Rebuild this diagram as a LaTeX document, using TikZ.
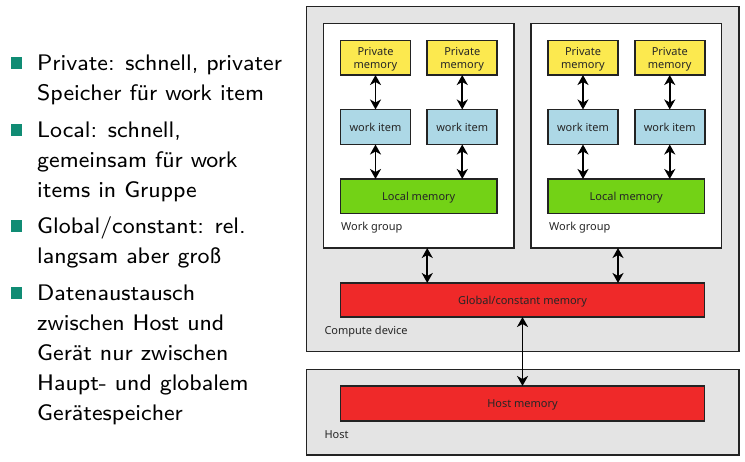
\documentclass[tikz,border=0pt]{standalone}
\usepackage{fontspec}
\newfontfamily\diagfont{Noto Sans}
\newfontfamily\bulletfont{lmsans8-regular}[Extension=.otf]
\usetikzlibrary{arrows.meta}
\definecolor{devgray}{RGB}{228,228,228}
\definecolor{privy}{RGB}{252,233,79}
\definecolor{wiblue}{RGB}{173,216,230}
\definecolor{locgreen}{RGB}{115,210,22}
\definecolor{globred}{RGB}{239,41,41}
\definecolor{bulletcol}{RGB}{16,140,116}
\definecolor{edgecol}{RGB}{35,35,35}
\begin{document}
\begin{tikzpicture}[x=1pt,y=-1pt,
  frame/.style={draw=edgecol,line width=1.6pt,inner sep=0pt,outer sep=0pt},
  membox/.style={frame,font=\diagfont\fontsize{11}{13.3}\selectfont,align=center,text depth=0pt,text=black!85},
  lbl/.style={anchor=west,inner sep=0pt,font=\diagfont\fontsize{11}{13}\selectfont,text=black!85},
  arr/.style={{Stealth[length=10pt,width=11pt,inset=3pt]}-{Stealth[length=10pt,width=11pt,inset=3pt]},line width=1.8pt,black},
  bsq/.style={fill=bulletcol,minimum width=11.5pt,minimum height=12pt,inner sep=0pt},
  btxt/.style={anchor=base west,inner sep=0pt,font=\bulletfont\fontsize{22.5}{30}\selectfont}]
\useasboundingbox (0,0) rectangle (745,462);
% containers
\node[frame,fill=devgray,minimum width=432.5pt,minimum height=345pt] (cd) at (522.75,179) {};
\node[frame,fill=devgray,minimum width=432.5pt,minimum height=85.5pt] (host) at (522.75,412.25) {};
\node[frame,fill=white,minimum width=190.5pt,minimum height=224.5pt] (wg1) at (418.75,135.75) {};
\node[frame,fill=white,minimum width=190.5pt,minimum height=224.5pt] (wg2) at (626.25,135.75) {};
% private memory
\node[membox,fill=privy,minimum width=70pt,minimum height=34.5pt] (p1) at (375.5,57.75) {Private\\memory};
\node[membox,fill=privy,minimum width=70pt,minimum height=34.5pt] (p2) at (462.25,57.75) {Private\\memory};
\node[membox,fill=privy,minimum width=70pt,minimum height=34.5pt] (p3) at (583,57.75) {Private\\memory};
\node[membox,fill=privy,minimum width=70pt,minimum height=34.5pt] (p4) at (669.75,57.75) {Private\\memory};
% work items
\node[membox,fill=wiblue,minimum width=70pt,minimum height=35pt] (w1) at (375.5,127) {work item};
\node[membox,fill=wiblue,minimum width=70pt,minimum height=35pt] (w2) at (462.25,127) {work item};
\node[membox,fill=wiblue,minimum width=70pt,minimum height=35pt] (w3) at (583,127) {work item};
\node[membox,fill=wiblue,minimum width=70pt,minimum height=35pt] (w4) at (669.75,127) {work item};
% local memory
\node[membox,fill=locgreen,minimum width=156.5pt,minimum height=34.5pt] (l1) at (418.75,196.25) {Local memory};
\node[membox,fill=locgreen,minimum width=156.5pt,minimum height=34.5pt] (l2) at (626.25,196.25) {Local memory};
% global and host memory
\node[membox,fill=globred,minimum width=364pt,minimum height=34pt] (glob) at (522.5,300) {Global/constant memory};
\node[membox,fill=globred,minimum width=364pt,minimum height=35pt] (hmem) at (522.5,403.5) {Host memory};
% labels
\node[lbl] (wgl1) at (341,227.5) {Work group};
\node[lbl] (wgl2) at (549,227.5) {Work group};
\node[lbl] (cdl) at (324.3,331.3) {Compute device};
\node[lbl] (hostl) at (324.3,434.7) {Host};
% arrows
\draw[arr] (p1) -- (w1);
\draw[arr] (p2) -- (w2);
\draw[arr] (p3) -- (w3);
\draw[arr] (p4) -- (w4);
\draw[arr] (w1) -- (w1 |- l1.north);
\draw[arr] (w2) -- (w2 |- l1.north);
\draw[arr] (w3) -- (w3 |- l2.north);
\draw[arr] (w4) -- (w4 |- l2.north);
\draw[arr] (wg1.south -| p2.west) -- (glob.north -| p2.west);
\draw[arr] (wg2.south -| p3.east) -- (glob.north -| p3.east);
\draw[arr] (glob) -- (hmem);
% bullet list
\node[bsq] (b1) at (16.5,62.7) {};
\node[bsq] (b2) at (16.5,130) {};
\node[bsq] (b3) at (16.5,225.7) {};
\node[bsq] (b4) at (16.5,292.7) {};
\node[btxt] (t1) at (37,70.7) {Private: schnell, privater};
\node[btxt] (t2) at (37,100.7) {Speicher für work item};
\node[btxt] (t3) at (37,138) {Local: schnell,};
\node[btxt] (t4) at (37,167.7) {gemeinsam für work};
\node[btxt] (t5) at (37,197.2) {items in Gruppe};
\node[btxt] (t6) at (37,233.7) {Global/constant: rel.};
\node[btxt] (t7) at (37,263.7) {langsam aber groß};
\node[btxt] (t8) at (37,300.7) {Datenaustausch};
\node[btxt] (t9) at (37,330.7) {zwischen Host und};
\node[btxt] (t10) at (37,360.7) {Gerät nur zwischen};
\node[btxt] (t11) at (37,390.7) {Haupt- und globalem};
\node[btxt] (t12) at (37,420.7) {Gerätespeicher};
\end{tikzpicture}
\end{document}
